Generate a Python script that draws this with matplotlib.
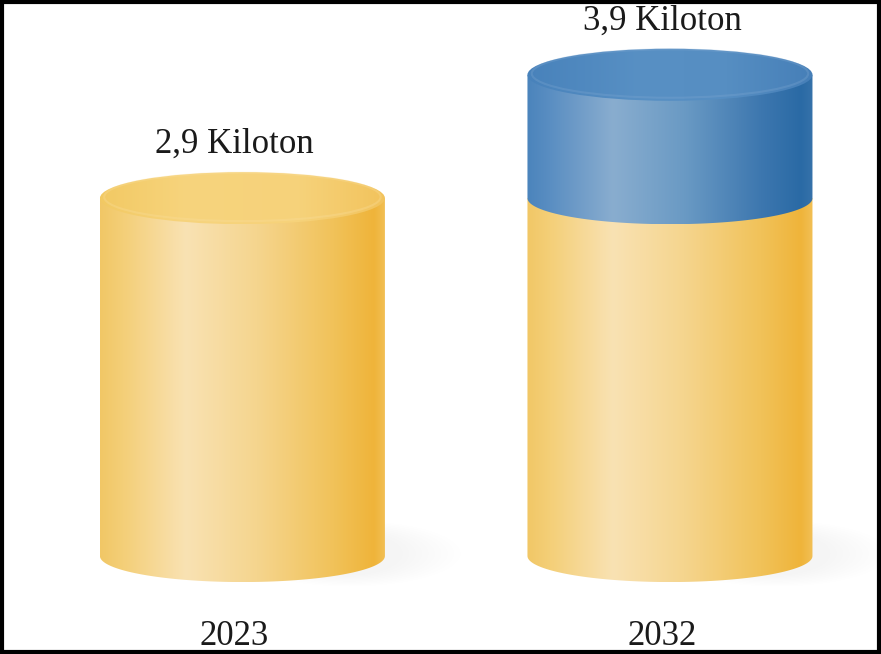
import matplotlib.pyplot as plt
import numpy as np
from matplotlib.colors import LinearSegmentedColormap
from matplotlib.patches import Ellipse, PathPatch, Rectangle
from matplotlib.path import Path

# Data
years = ['2023', '2032']
base = [2.9, 2.9]        # yellow part (current volume)
extra = [0.0, 1.0]       # blue part added on top
totals = [b + e for b, e in zip(base, extra)]
labels = ['2,9 Kiloton', '3,9 Kiloton']

# Cylinder shading (left -> right across the side)
yellow_side = LinearSegmentedColormap.from_list('ys', [
    (0.00, '#F1C766'), (0.08, '#F4CF78'), (0.30, '#F9E2B3'),
    (0.55, '#F5D58E'), (0.82, '#F1C259'), (0.96, '#EFB43A'), (1.00, '#F2BF55')])
yellow_top = LinearSegmentedColormap.from_list('yt', [
    (0.0, '#F2C963'), (0.3, '#F7D47D'), (0.7, '#F6D27A'), (1.0, '#F2C35C')])
blue_side = LinearSegmentedColormap.from_list('bs', [
    (0.00, '#4B84BC'), (0.08, '#5A8EC2'), (0.30, '#89ADCF'),
    (0.55, '#6A9AC4'), (0.82, '#3D77AF'), (0.96, '#2A6AA5'), (1.00, '#3672AA')])
blue_top = LinearSegmentedColormap.from_list('bt', [
    (0.0, '#4882BB'), (0.4, '#5890C4'), (0.7, '#568EC2'), (1.0, '#467FB8')])

hw = 0.3333   # half width of a cylinder (x units)
ry = 0.211    # half height of the ellipses (y units)

fig = plt.figure(figsize=(8.81, 6.54), dpi=100)
ax = fig.add_axes([0, 0, 1, 1])
ax.set_axis_off()

grad = np.linspace(0, 1, 256).reshape(1, -1)


def side(x, y0, y1, cmap, z):
    t = np.linspace(np.pi, 2 * np.pi, 80)
    verts = [(x - hw, y1)] + list(zip(x + hw * np.cos(t), y0 + ry * np.sin(t))) + [(x + hw, y1), (x - hw, y1)]
    patch = PathPatch(Path(verts), facecolor='none', edgecolor='none', zorder=z)
    ax.add_patch(patch)
    im = ax.imshow(grad, cmap=cmap, aspect='auto', extent=[x - hw, x + hw, y0 - ry, y1],
                   interpolation='bilinear', zorder=z)
    im.set_clip_path(patch)


def top(x, y, cmap, rim, z):
    e = Ellipse((x, y), 2 * hw, 2 * ry, facecolor='none', edgecolor='none', zorder=z)
    ax.add_patch(e)
    im = ax.imshow(grad, cmap=cmap, aspect='auto', extent=[x - hw, x + hw, y - ry, y + ry],
                   interpolation='bilinear', zorder=z)
    im.set_clip_path(e)
    ax.add_patch(Ellipse((x, y + 0.01), 2 * hw - 0.02, 2 * ry - 0.03, facecolor='none',
                         edgecolor=rim, lw=1.5, alpha=0.3, zorder=z + 0.1))


for i in range(len(years)):
    # soft shadow on the floor to the right
    for k in range(10):
        ax.add_patch(Ellipse((i + hw * 0.75, 0.02), 0.25 + 0.03 * k, 0.35 + 0.02 * k,
                             facecolor='#8a93ad', edgecolor='none', alpha=0.006, zorder=1))
    side(i, 0, base[i], yellow_side, 2)
    if extra[i] > 0:
        side(i, base[i], totals[i], blue_side, 3)
        top(i, totals[i], blue_top, '#7FA8D2', 4)
    else:
        top(i, base[i], yellow_top, '#FADF9E', 4)

    ax.annotate(labels[i], xy=(i, totals[i] + ry), xytext=(-8, 19), textcoords='offset pixels',
                ha='center', va='baseline', fontsize=25, family='Liberation Serif', color='#1a1a1a')
    ax.annotate(years[i], xy=(i, 0), xycoords=('data', 'axes fraction'), xytext=(-8, 9),
                textcoords='offset pixels', ha='center', va='baseline', fontsize=25,
                family='Liberation Serif', color='#1a1a1a')

ax.set_xlim(-0.567, 1.4936)
ax.set_ylim(-0.794, 4.506)

# black frame around the whole image
fig.patches.append(Rectangle((0.0023, 0.003), 0.9954, 0.994, transform=fig.transFigure,
                             fill=False, edgecolor='black', lw=3, zorder=10))

fig.savefig('out.png', dpi=100)
